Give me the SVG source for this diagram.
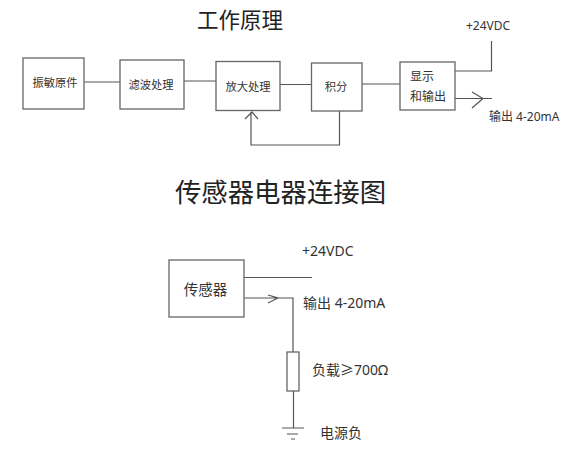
<svg xmlns="http://www.w3.org/2000/svg" width="565" height="450" viewBox="0 0 565 450">
<style>
text{font-family:"Noto Sans","Noto Sans CJK SC",sans-serif;fill:#333}
.t{font-size:11.300px;text-anchor:middle}
.h{text-anchor:middle;fill:#222}
.b{fill:#fff;stroke:#666;stroke-width:1.3}
.c{fill:none;stroke:#555;stroke-width:1.2}
</style>
<rect width="565" height="450" fill="#fff"/>
<text class="h" x="240" y="28" style="font-size:21.500px">工作原理</text>
<text class="h" x="280.500" y="202" style="font-size:26.400px">传感器电器连接图</text>
<g id="connectors">
<path class="c" d="M84 82H120M184 81H216M280 84.500H311.500M362 84H400"/>
<path class="c" d="M455 71H491.500V41M455 98.500H492M472 92L483 98.500L472 108"/>
<path class="c" d="M339.500 111V145H251V112M245 119L252 112L258 119"/>
<path class="c" d="M244 277.500H312M244 298H293V352M268 295L278 298L268 303"/>
<path class="c" d="M293.500 391V428M282 428H304M287 434H298M291 439H295"/>
</g>
<g id="n1"><rect class="b" x="23" y="58" width="61" height="51"/><text class="t" x="55" y="87">振敏原件</text></g>
<g id="n2"><rect class="b" x="120" y="60" width="64" height="49"/><text class="t" x="151" y="89">滤波处理</text></g>
<g id="n3"><rect class="b" x="216" y="61.500" width="64" height="49"/><text class="t" x="248" y="91">放大处理</text></g>
<g id="n4"><rect class="b" x="311.500" y="63" width="50.500" height="48"/><text class="t" x="336" y="91">积分</text></g>
<g id="n5"><rect class="b" x="400" y="62" width="55" height="48"/><text x="410" y="81" style="font-size:12px">显示</text><text x="410" y="101" style="font-size:12px">和输出</text></g>
<g id="n6"><rect class="b" x="169" y="260" width="75" height="57"/><text x="205.500" y="295" class="t" style="font-size:14.500px">传感器</text></g>
<g id="n7"><rect class="b" x="287" y="352" width="12" height="39"/></g>
<g id="labels">
<text x="466" y="30" style="font-size:12px">+24VDC</text>
<text x="489" y="121" style="font-size:12px">输出 4-20mA</text>
<text x="302" y="256" style="font-size:14px">+24VDC</text>
<text x="303" y="308" style="font-size:14px">输出 4-20mA</text>
<text x="312" y="375" style="font-size:14px">负载≥700Ω</text>
<text x="320" y="438" style="font-size:14px">电源负</text>
</g>
</svg>
